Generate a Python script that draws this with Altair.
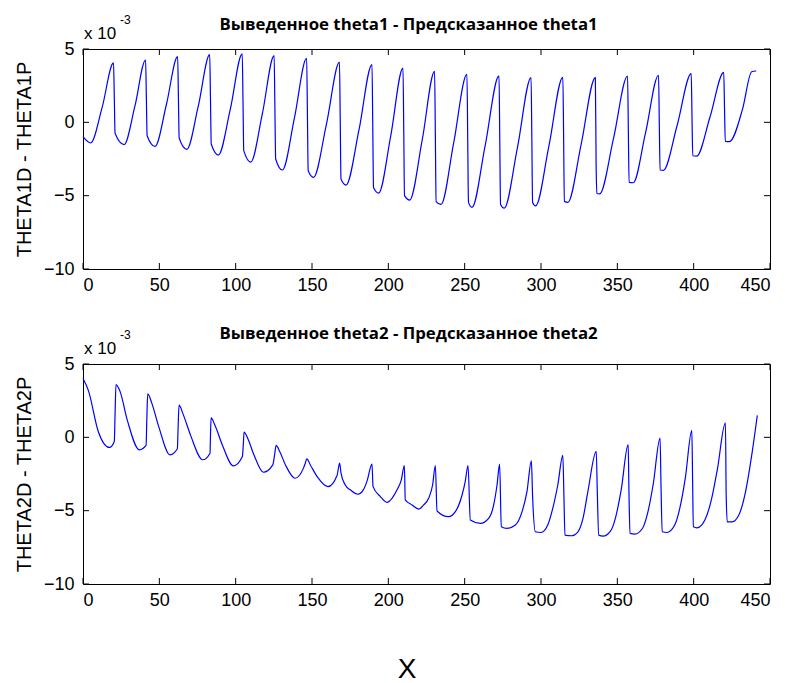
import altair as alt
import pandas as pd

# ---- data (values in units of 1e-3) ----
top_x = [0, 5, 12.5,
         20, 20.5, 21, 26.9, 34,
         41, 41.5, 42, 47.2, 54.6,
         62, 62.5, 63, 68, 75.5,
         83, 83.5, 84, 88.7, 96.5,
         104.3, 104.8, 105.3, 109.9, 117.5,
         125.2, 125.7, 126.2, 130.6, 138.5,
         146.5, 147, 147.5, 151, 159.5,
         168, 168.5, 169, 172.3, 180.8,
         189.3, 189.8, 190.3, 193.7, 201.6,
         209.6, 210.1, 210.6, 214, 222.2,
         230.3, 230.8, 231.3, 234.5, 242.8,
         251.5, 252, 252.5, 254.8, 263.4,
         272.5, 273, 273.5, 275.9, 284.6,
         293.5, 294, 294.5, 296.5, 305.2,
         314.3, 314.8, 315.3, 317.6, 326.3,
         335.6, 336.1, 336.6, 338.4, 347.5,
         356.7, 357.2, 357.7, 360.4, 368.5,
         377, 377.5, 378, 380.2, 389.2,
         398.4, 398.9, 399.4, 402, 410.8,
         419.7, 420.2, 420.7, 423.4, 432,
         438, 441]
top_y = [-0.98, -1.41, 1.0,
         4.05, 1.71, -0.75, -1.52, 1.1,
         4.25, 1.71, -0.91, -1.64, 1.2,
         4.48, 1.71, -1.07, -1.84, 1.1,
         4.62, 1.6, -1.48, -2.23, 0.9,
         4.67, 1.48, -1.93, -2.71, 0.6,
         4.55, 0.91, -2.5, -3.25, 0.3,
         4.37, 0.57, -3.3, -3.75, -0.1,
         4.1, 0.1, -3.87, -4.28, -0.5,
         3.94, -0.27, -4.44, -4.82, -0.9,
         3.7, -0.55, -5.0, -5.3, -1.2,
         3.48, -0.91, -5.4, -5.6, -1.4,
         3.28, -1.14, -5.46, -5.8, -1.6,
         3.17, -1.24, -5.6, -5.85, -1.7,
         3.05, -1.14, -5.46, -5.69, -1.6,
         3.07, -0.8, -5.39, -5.46, -1.5,
         3.05, -2.84, -4.85, -4.88, -1.1,
         3.16, -0.43, -4.1, -4.12, -0.7,
         3.21, -0.15, -3.25, -3.27, -0.2,
         3.32, 0.45, -2.28, -2.3, 0.4,
         3.41, 1.02, -1.3, -1.32, 0.9,
         3.45, 3.5]

bot_x = [0, 3.5, 10, 17.3, 20.5, 21, 21.6,
         24.2, 29.2, 36.9, 41.3, 41.8, 42.4,
         45, 49.7, 57, 61.8, 62.3, 62.9,
         65.5, 70.6, 78.4, 83.2, 83.5, 83.9,
         86.5, 91.2, 98.5, 104.4, 105, 105.5,
         108, 112, 118.2, 124.3, 125.5, 126.5,
         129, 132.7, 138.9, 144.4, 145.5, 146.6,
         149, 153.5, 160.5, 166.4, 168.1,
         169, 171.8, 175.1, 180.1, 183.5, 186, 189.3,
         190, 194.8, 199.1, 202.4, 205.7, 208.5, 210.5,
         211.1, 215.5, 219.9, 223.1, 226.4, 229, 230.8,
         231.9, 239.5, 243.9, 248.3, 250.4, 252.2,
         253.7, 260.3, 265.7, 269, 271.2, 272.9,
         274, 277.7, 283.2, 287.6, 290.8, 293.7,
         294.5, 296.3, 300, 304.4, 307.7, 311, 314.3,
         315, 315.7, 319.8, 324.2, 327.5, 330.7, 336.2,
         336.9, 337.8, 340.6, 345.5, 349, 352.5, 357.1,
         357.6, 358.3, 361.5, 366.5, 370, 373.5, 378,
         378.6, 379.4, 382.4, 387.5, 391, 394.5, 398.8,
         399.3, 399.8, 402.1, 407.5, 411.5, 415.5, 420.8,
         421.3, 422, 425.2, 429.6, 434, 438.4, 441.7]
bot_y = [4.01, 3.2, 0.4, -0.69, -0.28, 1.55, 3.6,
         3.15, 1.1, -0.85, -0.55, 1.2, 2.97,
         2.35, 0.7, -1.19, -0.78, 0.64, 2.19,
         1.6, 0.1, -1.53, -1.08, 0.1, 1.32,
         0.8, -0.5, -1.94, -1.3, -0.5, 0.36,
         -0.1, -1.2, -2.38, -1.88, -1.2, -0.55,
         -1.0, -1.9, -2.79, -2.1, -1.8, -1.47,
         -1.9, -2.7, -3.36, -2.6, -1.76,
         -2.44, -3.25, -3.58, -3.88, -3.6, -3.0, -1.83,
         -3.36, -4.04, -4.43, -4.16, -3.58, -2.9, -1.92,
         -4.27, -4.61, -4.89, -4.61, -4.16, -3.25, -1.92,
         -5.02, -5.41, -5.07, -3.93, -3.0, -1.92,
         -5.64, -5.87, -5.53, -4.61, -3.25, -1.83,
         -6.1, -6.21, -5.98, -5.07, -3.7, -1.6,
         -4.04, -6.44, -6.49, -5.98, -4.84, -3.25, -1.23,
         -3.93, -6.67, -6.71, -6.44, -5.53, -3.7, -0.96,
         -3.82, -6.67, -6.74, -6.4, -5.4, -3.6, -0.5,
         -3.59, -6.55, -6.6, -6.2, -5.1, -3.2, -0.05,
         -3.25, -6.44, -6.49, -6.0, -4.8, -2.8, 0.48,
         -2.9, -6.1, -6.17, -5.6, -4.3, -2.2, 0.98,
         -3.93, -5.76, -5.76, -5.3, -3.7, -0.96, 1.5]

x_ticks = [0, 50, 100, 150, 200, 250, 300, 350, 400, 450]
y_ticks = [5, 0, -5, -10]

titles = ["Выведенное theta1 - Предсказанное theta1",
          "Выведенное theta2 - Предсказанное theta2"]
ylabels = ["THETA1D - THETA1P", "THETA2D - THETA2P"]
xlabel = "X"

W, H = 687, 220
FONT = "Liberation Sans"

xs = alt.Scale(domain=[0, 450], nice=False, zero=False)
ys = alt.Scale(domain=[-10, 5], nice=False, zero=False)


def panel(xv, yv, title, ylab, title_dy, exp_dy, with_xlabel):
    xax = alt.Axis(values=x_ticks, title=None, domain=False, ticks=False,
                   grid=False, labelPadding=7, labelFontSize=18,
                   labelFont=FONT, labelColor="black")
    yax = alt.Axis(values=y_ticks, title=ylab, domain=False, ticks=False,
                   grid=False, labelPadding=9, labelFontSize=18,
                   labelFont=FONT, labelColor="black",
                   minExtent=40, maxExtent=40, titlePadding=9,
                   titleFont=FONT, titleFontSize=20,
                   titleFontWeight="normal", titleColor="black")
    X = alt.X("x:Q", scale=xs, axis=xax)
    Y = alt.Y("y:Q", scale=ys, axis=yax)
    df = pd.DataFrame({"x": xv, "y": yv})
    line = alt.Chart(df).mark_line(color="#0000ff", strokeWidth=1.2,
                                   interpolate="monotone").encode(x=X, y=Y)
    xt = pd.DataFrame({"x": x_ticks})
    yt = pd.DataFrame({"y": y_ticks})
    tick_b = alt.Chart(xt).mark_rule(color="black").encode(
        x=X, y=alt.value(H), y2=alt.value(H - 6))
    tick_t = alt.Chart(xt).mark_rule(color="black").encode(
        x=X, y=alt.value(0), y2=alt.value(6))
    tick_l = alt.Chart(yt).mark_rule(color="black").encode(
        y=Y, x=alt.value(0), x2=alt.value(6))
    tick_r = alt.Chart(yt).mark_rule(color="black").encode(
        y=Y, x=alt.value(W), x2=alt.value(W - 6))
    ttl = alt.Chart(pd.DataFrame({"t": [title]})).mark_text(
        font="Open Sans", fontWeight="bold", fontSize=16.8, color="black",
        align="center", baseline="alphabetic").encode(
        text="t:N", x=alt.value(325.5), y=alt.value(title_dy))
    e1 = alt.Chart(pd.DataFrame({"t": ["x 10"]})).mark_text(
        font=FONT, fontSize=17, color="black", align="left",
        baseline="alphabetic").encode(text="t:N", x=alt.value(1), y=alt.value(-10.5))
    e2 = alt.Chart(pd.DataFrame({"t": ["-3"]})).mark_text(
        font=FONT, fontSize=12, color="black", align="left",
        baseline="alphabetic").encode(text="t:N", x=alt.value(37), y=alt.value(exp_dy))
    layers = [line, tick_b, tick_t, tick_l, tick_r, ttl, e1, e2]
    if with_xlabel:
        xl = alt.Chart(pd.DataFrame({"t": [xlabel]})).mark_text(
            font=FONT, fontSize=28, color="black", align="center",
            baseline="alphabetic").encode(text="t:N", x=alt.value(324), y=alt.value(314))
        layers.append(xl)
    return alt.layer(*layers).properties(width=W, height=H)


p1 = panel(top_x, top_y, titles[0], ylabels[0], -19, -25, False)
p2 = panel(bot_x, bot_y, titles[1], ylabels[1], -25.5, -25, True)

chart = alt.vconcat(p1, p2, spacing=95, bounds="flush").properties(
    padding={"left": 5, "top": 5, "right": 5, "bottom": 0},
    background="white",
).configure_view(stroke="black", strokeWidth=1)

chart.save("out.html", embed_options={"renderer": "svg", "actions": False})
